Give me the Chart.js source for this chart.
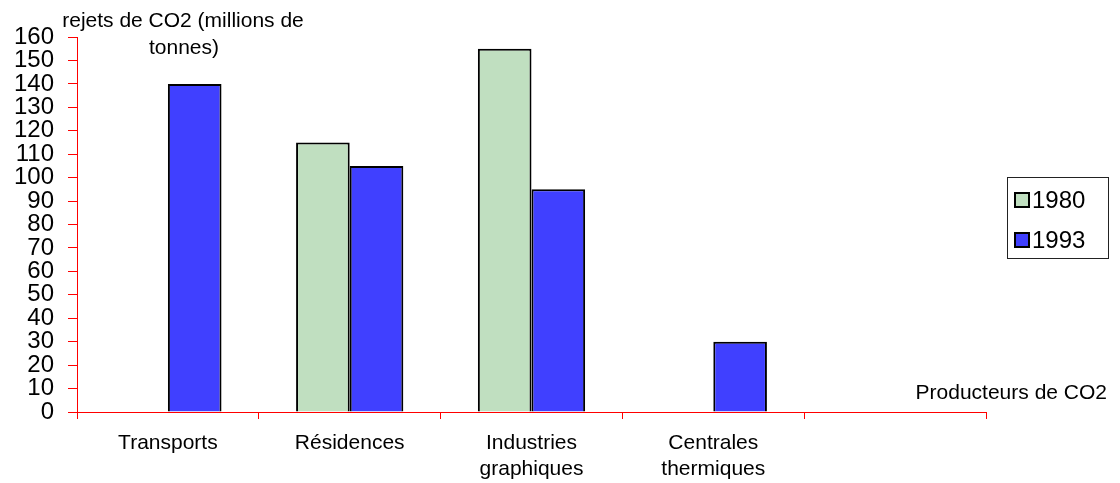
<!DOCTYPE html>
<html>
<head>
<meta charset="utf-8">
<script src="https://cdn.jsdelivr.net/npm/chart.js@4/dist/chart.umd.min.js"></script>
<style>
  html, body { margin: 0; padding: 0; background: #fff; }
  #wrap { width: 1120px; height: 483px; }
</style>
</head>
<body>
<div id="wrap"><canvas id="c" width="1120" height="483"></canvas></div>
<script>
// CO2 emissions by producer, millions of tonnes
const categories = ['Transports', 'Résidences', ['Industries', 'graphiques'], ['Centrales', 'thermiques'], ''];
const values1980 = [null, 115, 155, null, null];
const values1993 = [140, 105, 95, 30, null];
const seriesNames = ['1980', '1993'];
const seriesColors = ['#c0dfc0', '#4040ff'];
const yTitleLines = ['rejets de CO2 (millions de', 'tonnes)'];
const xTitle = 'Producteurs de CO2';

const FONT = '"Liberation Sans", Arial, sans-serif';

// Axis titles and the boxed legend, drawn on the canvas after the chart
const decorations = {
  id: 'decorations',
  afterDraw(chart) {
    const ctx = chart.ctx;
    ctx.save();
    ctx.fillStyle = '#000';
    ctx.font = '21px ' + FONT;
    ctx.textAlign = 'center';
    ctx.textBaseline = 'middle';
    ctx.fillText(yTitleLines[0], 183, 21);
    ctx.fillText(yTitleLines[1], 184, 48);

    ctx.textAlign = 'right';
    ctx.fillText(xTitle, 1107, 393);

    // legend box
    ctx.strokeStyle = '#222';
    ctx.lineWidth = 1;
    ctx.strokeRect(1007.5, 177.5, 101, 81);
    ctx.font = '24px ' + FONT;
    ctx.textAlign = 'left';
    seriesNames.forEach((name, i) => {
      const cy = 200 + i * 40;
      ctx.fillStyle = seriesColors[i];
      ctx.fillRect(1015, cy - 7, 14, 14);
      ctx.strokeStyle = '#000';
      ctx.lineWidth = 2;
      ctx.strokeRect(1015, cy - 7, 14, 14);
      ctx.fillStyle = '#000';
      ctx.fillText(name, 1032, cy + 1);
    });
    ctx.restore();
  }
};

new Chart(document.getElementById('c'), {
  type: 'bar',
  data: {
    labels: categories,
    datasets: [
      { label: seriesNames[0], data: values1980, backgroundColor: seriesColors[0], borderColor: '#000', borderWidth: 2 },
      { label: seriesNames[1], data: values1993, backgroundColor: seriesColors[1], borderColor: '#000', borderWidth: 2 }
    ]
  },
  options: {
    responsive: false,
    animation: false,
    events: [],
    layout: { padding: { top: 37, right: 134, bottom: 0, left: 0 } },
    datasets: { bar: { categoryPercentage: 0.59, barPercentage: 1.0 } },
    plugins: { legend: { display: false }, tooltip: { enabled: false } },
    scales: {
      x: {
        offset: true,
        grid: { offset: true, drawOnChartArea: false, drawTicks: true, tickLength: 7, color: '#ff0000' },
        border: { color: '#ff0000', width: 1 },
        ticks: { color: '#000', font: { family: FONT, size: 21 }, maxRotation: 0, autoSkip: false, padding: 12 },
        afterFit(scale) { scale.height = 71; }
      },
      y: {
        min: 0,
        max: 160,
        grid: { drawOnChartArea: false, drawTicks: true, tickLength: 9, color: '#ff0000' },
        border: { color: '#ff0000', width: 1 },
        ticks: { stepSize: 10, autoSkip: false, color: '#000', font: { family: FONT, size: 24 }, padding: 14 },
        afterFit(scale) { scale.width = 77; }
      }
    }
  },
  plugins: [decorations]
});
</script>
</body>
</html>
